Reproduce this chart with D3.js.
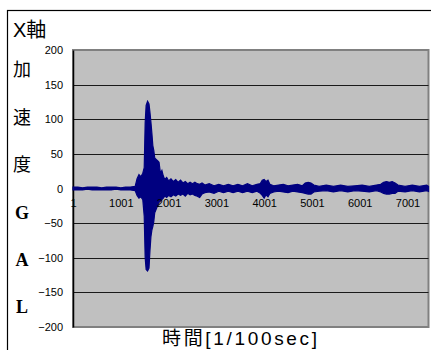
<!DOCTYPE html>
<html>
<head>
<meta charset="utf-8">
<script src="https://cdn.jsdelivr.net/npm/d3@7"></script>
<style>
  body { margin: 0; background: #fff; }
  svg { display: block; }
</style>
</head>
<body>
<div id="chart"></div>
<script>
// envelope of the X-axis acceleration record (sample index, upper, lower in GAL)
const sampleIdx = [0, 100, 200, 300, 400, 500, 600, 700, 800, 900, 1000, 1100, 1200, 1300,
  1340, 1380, 1420, 1460, 1490, 1510, 1530, 1560, 1590, 1610, 1630, 1650, 1670, 1690, 1710,
  1740, 1770, 1800, 1830, 1860, 1890, 1920, 1960, 2000, 2050, 2100, 2150, 2200, 2250, 2300,
  2350, 2400, 2450, 2500, 2550, 2600, 2650, 2700, 2760, 2850, 2950, 3050, 3150, 3250, 3350,
  3450, 3550, 3650, 3750, 3850, 3920, 3960, 4000, 4040, 4080, 4120, 4200, 4300, 4400, 4500,
  4600, 4700, 4800, 4860, 4920, 4980, 5040, 5150, 5300, 5450, 5600, 5750, 5900, 6050, 6200,
  6350, 6440, 6500, 6560, 6620, 6680, 6740, 6800, 6950, 7100, 7250, 7400, 7440];
const accelHi = [2, 2, 1, 2, 2, 2, 1, 2, 2, 2, 1, 2, 2, 3,
  14, 20, 17, 22, 30, 95, 120, 126, 122, 110, 96, 80, 62, 55, 44,
  42, 40, 38, 22, 26, 18, 13, 16, 11, 14, 10, 13, 9, 12, 8,
  10, 7, 9, 7, 9, 7, 6, 8, 5, 7, 4, 6, 4, 6, 4,
  6, 4, 7, 4, 6, 7, 12, 13, 10, 12, 6, 4, 5, 6, 4,
  5, 6, 4, 8, 9, 8, 5, 3, 5, 3, 5, 3, 4, 5, 3,
  5, 6, 9, 10, 9, 10, 8, 5, 3, 5, 3, 5, 3];
const accelLo = [-2, -2, -2, -1, -2, -2, -2, -2, -2, -1, -2, -2, -2, -3,
  -10, -14, -12, -16, -40, -100, -117, -119, -115, -90, -70, -60, -55, -48, -35,
  -30, -25, -20, -18, -16, -14, -11, -13, -10, -12, -9, -11, -8, -10, -8,
  -11, -7, -9, -8, -10, -11, -13, -8, -6, -5, -7, -4, -6, -4, -6,
  -4, -6, -4, -6, -4, -7, -10, -14, -9, -12, -7, -5, -4, -5, -6,
  -4, -5, -6, -7, -8, -8, -5, -4, -3, -5, -3, -5, -3, -4, -5,
  -3, -5, -7, -8, -8, -7, -7, -4, -5, -3, -5, -3, -4];
const nSamples = 7440;
const yTicks = [-200, -150, -100, -50, 0, 50, 100, 150, 200];
const xTicks = [1, 1001, 2001, 3001, 4001, 5001, 6001, 7001];
const title = 'X軸';
const yLabelChars = ['加', '速', '度', 'G', 'A', 'L'];
const xTitle = '時間[1/100sec]';

const width = 431, height = 350;
const plot = { left: 73, top: 50, right: 428.5, bottom: 327 };

const svg = d3.select('#chart').append('svg')
  .attr('width', width)
  .attr('height', height);

// outer chart border
svg.append('rect')
  .attr('x', 7.5).attr('y', 10.5)
  .attr('width', 440).attr('height', 360)
  .attr('fill', '#fff')
  .attr('stroke', '#000')
  .attr('stroke-width', 1.2);

const x = d3.scaleLinear().domain([0.5, nSamples + 0.5]).range([plot.left, plot.right]);
const y = d3.scaleLinear().domain([-200, 200]).range([plot.bottom, plot.top]);

// plot area
svg.append('rect')
  .attr('x', plot.left).attr('y', plot.top)
  .attr('width', plot.right - plot.left).attr('height', plot.bottom - plot.top)
  .attr('fill', '#c0c0c0')
  .attr('stroke', '#808080')
  .attr('stroke-width', 2);

// gridlines
svg.append('g')
  .selectAll('line')
  .data(yTicks.filter(d => d !== 0 && Math.abs(d) !== 200))
  .join('line')
  .attr('x1', plot.left).attr('x2', plot.right)
  .attr('y1', d => Math.round(y(d)) + 0.5).attr('y2', d => Math.round(y(d)) + 0.5)
  .attr('stroke', '#1a1a1a')
  .attr('stroke-width', 1);

// y axis
const yAxis = svg.append('g')
  .attr('transform', `translate(${plot.left},0)`)
  .call(d3.axisLeft(y).tickValues(yTicks).tickSize(0).tickPadding(10));
yAxis.select('.domain').attr('stroke', '#000').attr('stroke-width', 1.5);
yAxis.selectAll('text')
  .attr('font-family', '"Liberation Sans", Arial, sans-serif')
  .attr('font-size', 11)
  .attr('fill', '#000');

// waveform
const pts = sampleIdx.map((t, i) => ({ t: t + 1, hi: accelHi[i], lo: accelLo[i] }));
const area = d3.area()
  .x(d => x(d.t))
  .y0(d => y(d.lo))
  .y1(d => y(d.hi));
svg.append('path')
  .datum(pts)
  .attr('d', area)
  .attr('fill', '#000080')
  .attr('stroke', '#000080')
  .attr('stroke-width', 1.2)
  .attr('stroke-linejoin', 'miter');

// x axis labels (category axis crossing at 0)
const xAxis = svg.append('g')
  .attr('transform', `translate(0,${y(0)})`)
  .call(d3.axisBottom(x).tickValues(xTicks).tickSize(0).tickPadding(11).tickFormat(d3.format('d')));
xAxis.select('.domain').remove();
xAxis.selectAll('text')
  .attr('font-family', '"Liberation Sans", Arial, sans-serif')
  .attr('font-size', 11)
  .attr('fill', '#000');

// chart title
svg.append('text')
  .attr('x', 13).attr('y', 37)
  .attr('font-family', '"Liberation Sans", "Noto Sans CJK JP", sans-serif')
  .attr('font-size', 20)
  .text(title);

// stacked y axis title
svg.append('g')
  .selectAll('text')
  .data(yLabelChars)
  .join('text')
  .attr('x', 22)
  .attr('y', (d, i) => 70 + i * 47.4)
  .attr('dy', '0.35em')
  .attr('text-anchor', 'middle')
  .attr('font-family', d => /[A-Z]/.test(d) ? '"Liberation Serif", "Times New Roman", serif' : '"Noto Sans CJK JP", sans-serif')
  .attr('font-weight', d => /[A-Z]/.test(d) ? 'bold' : 'normal')
  .attr('font-size', 18)
  .text(d => d);

// x axis title
svg.append('text')
  .attr('x', 162).attr('y', 345)
  .attr('font-family', '"Liberation Sans", "Noto Sans CJK JP", sans-serif')
  .attr('font-size', 19)
  .attr('textLength', 155)
  .attr('lengthAdjust', 'spacing')
  .text(xTitle);
</script>
</body>
</html>
